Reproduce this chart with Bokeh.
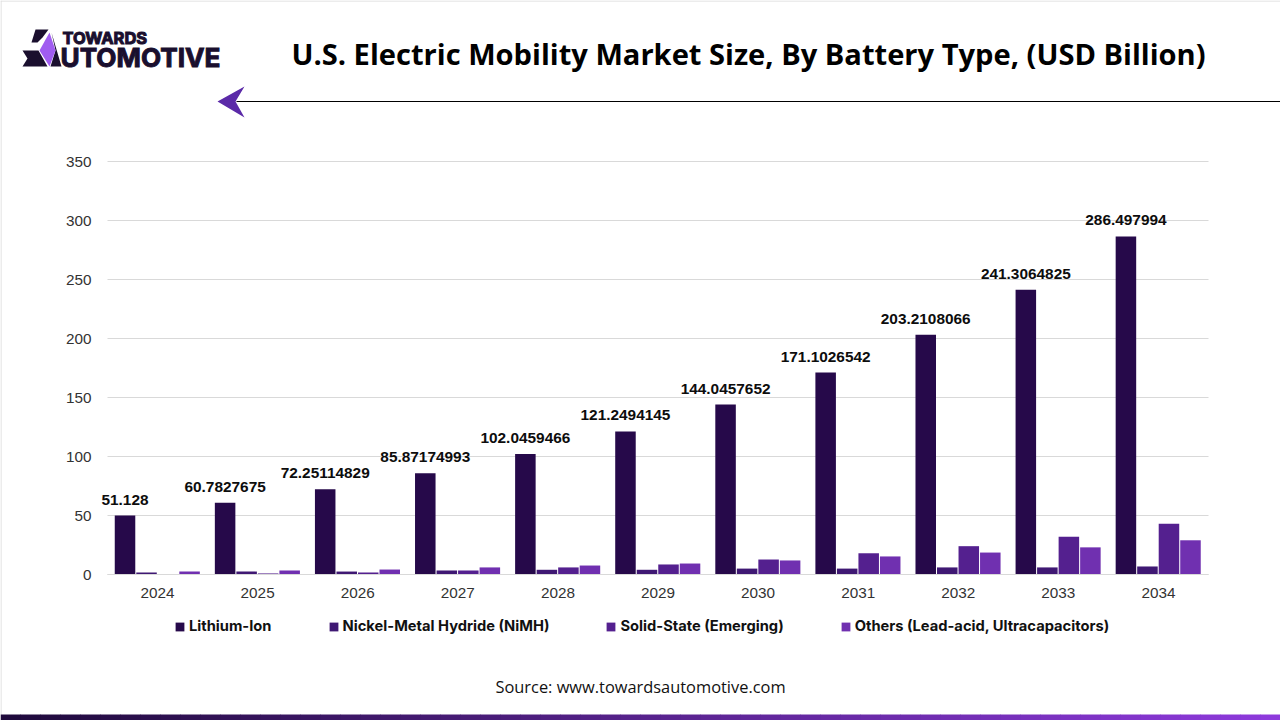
from bokeh.plotting import figure
from bokeh.core.properties import value
from bokeh.models import (ColumnDataSource, Range1d, LabelSet, Label, Legend, LegendItem,
                          BoxAnnotation, PolyAnnotation, FixedTicker)
from bokeh.transform import dodge
from bokeh.embed import file_html
from bokeh.resources import INLINE

years = ["2024", "2025", "2026", "2027", "2028", "2029", "2030", "2031", "2032", "2033", "2034"]
lithium_ion = [50.0, 60.78, 72.25, 85.87, 102.05, 121.25, 144.05, 171.10, 203.21, 241.31, 286.50]
nimh = [1.7, 2.5, 2.5, 3.4, 4.0, 4.0, 5.0, 5.0, 6.0, 6.0, 6.8]
solid_state = [0.0, 0.9, 1.7, 3.4, 6.0, 8.5, 12.7, 18.0, 24.0, 32.0, 43.0]
others = [2.5, 3.4, 4.2, 6.0, 7.6, 9.3, 11.9, 15.3, 18.6, 23.0, 29.0]
li_labels = ["51.128", "60.7827675", "72.25114829", "85.87174993", "102.0459466", "121.2494145",
             "144.0457652", "171.1026542", "203.2108066", "241.3064825", "286.497994"]
series_names = ["Lithium-Ion", "Nickel-Metal Hydride (NiMH)", "Solid-State (Emerging)",
                "Others (Lead-acid, Ultracapacitors)"]
y_ticks = [0, 50, 100, 150, 200, 250, 300, 350]
title_text = "U.S. Electric Mobility Market Size, By Battery Type, (USD Billion)"
source_text = "Source: www.towardsautomotive.com"

COLORS = ["#26094A", "#3F1873", "#54208F", "#7030B0"]
OFFSETS = [-0.325, -0.11, 0.105, 0.32]
BAR_W = 0.205

W, H = 1280, 720
L, R, T, B = 107, 1208, 161, 574   # plot area edges in page pixels
XS = (R - L) / len(years)          # pixels per category
YS = (B - T) / 350                 # pixels per unit
X0 = L + XS / 2                    # pixel of the first category's centre
LOGO = "#1A0F2E"


def sx(px):
    return px


def sy(py):
    return H - py


positions = list(range(len(years)))
p = figure(width=W, height=H, output_backend="svg", toolbar_location=None,
           x_range=Range1d(-X0 / XS, (W - X0) / XS),
           y_range=Range1d((B - H) / YS, B / YS),
           min_border=0)
p.outline_line_color = None
p.background_fill_color = "white"
p.border_fill_color = "white"
p.grid.visible = False

x_left, x_right = -0.5, len(years) - 0.5
p.segment(x0=[x_left] * len(y_ticks), x1=[x_right] * len(y_ticks), y0=y_ticks, y1=y_ticks,
          line_color="#D9D9D9", line_width=1)

p.yaxis.fixed_location = x_left
p.yaxis.ticker = FixedTicker(ticks=y_ticks)
p.yaxis.bounds = (0, 350)
p.yaxis.axis_line_color = None
p.yaxis.major_tick_line_color = None
p.yaxis.minor_tick_line_color = None
p.yaxis.major_tick_out = 0
p.yaxis.major_tick_in = 0
p.yaxis.major_label_standoff = 16
p.yaxis.major_label_text_font = "Liberation Sans"
p.yaxis.major_label_text_font_size = "15.3px"
p.yaxis.major_label_text_color = "#333333"

p.xaxis.fixed_location = 0
p.xaxis.ticker = FixedTicker(ticks=positions)
p.xaxis.major_label_overrides = dict(zip(positions, years))
p.xaxis.bounds = (x_left, x_right)
p.xaxis.axis_line_color = "#D9D9D9"
p.xaxis.major_tick_line_color = None
p.xaxis.minor_tick_line_color = None
p.xaxis.major_tick_out = 0
p.xaxis.major_tick_in = 0
p.xaxis.major_label_standoff = 13
p.xaxis.major_label_text_font = "Liberation Sans"
p.xaxis.major_label_text_font_size = "15.3px"
p.xaxis.major_label_text_color = "#333333"

src = ColumnDataSource(dict(x=positions, li=lithium_ion, nimh=nimh, ss=solid_state, oth=others,
                            lab=li_labels))
renderers = []
for col, color, off in zip(["li", "nimh", "ss", "oth"], COLORS, OFFSETS):
    r = p.vbar(x=dodge("x", off), top=col, width=BAR_W, bottom=0, source=src,
               fill_color=color, line_color=None)
    renderers.append(r)

p.add_layout(LabelSet(x=dodge("x", OFFSETS[0]), y="li", text="lab", source=src,
                      y_offset=16, text_align="center", text_baseline="middle",
                      text_font=value("Liberation Sans"), text_font_style="bold",
                      text_font_size="15.4px", text_color="#0D0D0D"))

legend = Legend(items=[LegendItem(label=n, renderers=[r]) for n, r in zip(series_names, renderers)],
                orientation="horizontal", location=(sx(174), sy(635)), spacing=56,
                glyph_width=11, glyph_height=11, label_standoff=4, padding=0, margin=0,
                border_line_color=None, background_fill_alpha=0,
                label_text_font="Inter", label_text_font_style="bold", label_text_font_size="14.7px",
                label_text_color="#111111", label_height=16)
p.add_layout(legend, "center")

# header and footer texts
p.add_layout(Label(x=sx(748), y=sy(53.5), x_units="screen", y_units="screen", text=title_text,
                   text_align="center", text_baseline="middle", text_font="Open Sans",
                   text_font_style="bold", text_font_size="29.1px", text_color="#000000"))
p.add_layout(Label(x=sx(640), y=sy(685.5), x_units="screen", y_units="screen", text=source_text,
                   text_align="center", text_baseline="middle", text_font="Open Sans",
                   text_font_size="16.4px", text_color="#111111"))
p.add_layout(Label(x=sx(62), y=sy(37), x_units="screen", y_units="screen", text="TOWARDS",
                   text_align="left", text_baseline="middle", text_font="Inter",
                   text_font_style="bold", text_font_size="16.5px", text_color=LOGO,
                   text_outline_color=LOGO))
p.add_layout(Label(x=sx(60), y=sy(57), x_units="screen", y_units="screen", text="UTOMOTIVE",
                   text_align="left", text_baseline="middle", text_font="Inter",
                   text_font_style="bold", text_font_size="26.2px", text_color=LOGO,
                   text_outline_color=LOGO))


def poly(points, color):
    p.add_layout(PolyAnnotation(xs=[sx(a) for a, _ in points], ys=[sy(b) for _, b in points],
                                xs_units="screen", ys_units="screen", fill_color=color, fill_alpha=1,
                                line_color=None, level="overlay", editable=False))


def band(x0, x1, y0, y1, color):
    p.add_layout(BoxAnnotation(left=sx(x0), right=sx(x1), top=sy(y0), bottom=sy(y1),
                               left_units="screen", right_units="screen", top_units="screen",
                               bottom_units="screen", fill_color=color, fill_alpha=1, line_color=None,
                               level="overlay"))


# logo
poly([(31, 42), (35, 29), (48, 29), (42, 37), (37, 42)], LOGO)
poly([(22, 50), (38, 50), (47, 66), (22, 66), (27, 58)], LOGO)
poly([(51, 32), (61, 66), (50, 66), (55, 50)], LOGO)
poly([(49, 32), (39, 50), (49, 66), (55, 50)], "#A05CF0")
# arrow and rule
poly([(217, 101), (244, 86), (235, 101), (244, 117)], "#5B2AA8")
band(236, 1280, 100.5, 101.5, "#000000")

# page edges
band(0, 1, 0, 714, "#D9D9D9")
band(0, 1280, 0, 1, "#D9D9D9")

# bottom gradient band
c0, c1 = (0x1F, 0x0A, 0x3C), (0x8E, 0x3A, 0xDC)
n = 64
for i in range(n):
    t = i / (n - 1)
    col = "#%02x%02x%02x" % tuple(round(a + (b - a) * t) for a, b in zip(c0, c1))
    band(W * i / n, W * (i + 1) / n + 0.5, 714, 720, col)

open("out.html", "w").write(file_html(p, INLINE))
